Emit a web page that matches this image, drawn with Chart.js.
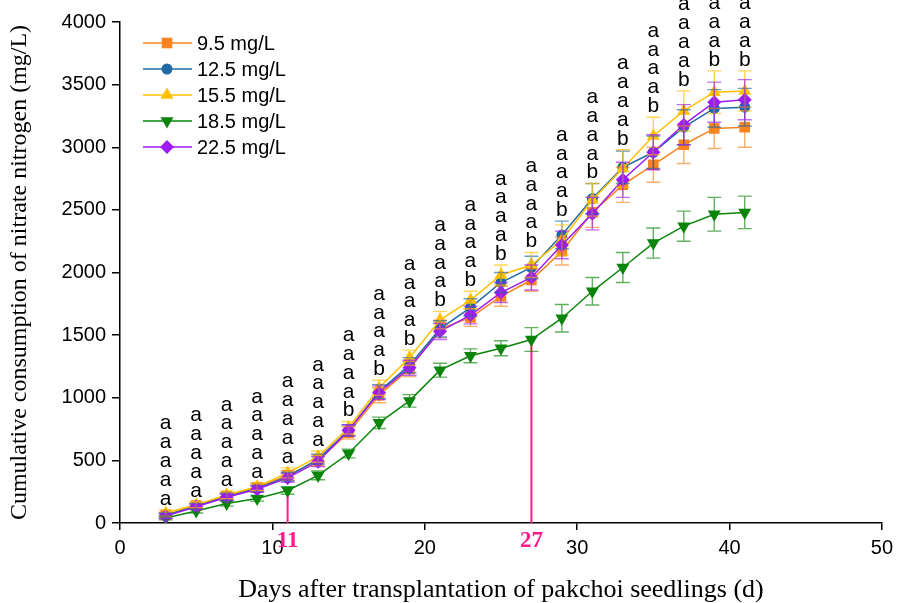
<!DOCTYPE html>
<html><head><meta charset="utf-8">
<script src="https://cdn.jsdelivr.net/npm/chart.js@4"></script>
<style>html,body{margin:0;padding:0;background:#fff}#wrap{width:899px;height:603px}</style>
</head><body><div id="wrap"><canvas id="c" width="899" height="603"></canvas></div>
<script>
// ---- data ----
const days = [3,5,7,9,11,13,15,17,19,21,23,25,27,29,31,33,35,37,39,41];
const seriesNames = ['9.5 mg/L','12.5 mg/L','15.5 mg/L','18.5 mg/L','22.5 mg/L'];
const s95  = [65,140,215,285,380,500,720,1020,1230,1550,1640,1810,1940,2170,2480,2700,2860,3020,3150,3160];
const s125 = [60,135,210,275,370,510,740,1050,1260,1550,1720,1920,2040,2300,2590,2840,2960,3160,3310,3320];
const s155 = [80,145,225,290,400,530,760,1080,1320,1620,1780,1980,2060,2260,2580,2830,3090,3290,3440,3450];
const s185 = [40,95,155,195,260,380,555,800,975,1220,1335,1395,1465,1635,1850,2040,2235,2370,2465,2480];
const s225 = [55,130,205,270,360,490,740,1040,1240,1530,1660,1840,1960,2220,2470,2740,2960,3180,3360,3380];
const e95  = [20,20,25,30,40,45,50,60,60,70,70,80,90,110,120,140,140,150,160,160];
const e125 = [20,20,25,25,35,40,45,55,60,65,70,80,90,110,120,130,130,140,150,150];
const e155 = [25,25,30,30,40,45,50,60,60,70,70,80,100,120,130,150,150,160,170,160];
const e185 = [15,15,20,20,30,35,35,45,50,55,55,60,95,110,110,120,120,120,135,130];
const e225 = [20,20,25,25,35,40,45,55,60,65,70,80,100,110,130,140,140,160,160,160];
const letters = ['aaaaa','aaaaa','aaaaa','aaaaa','aaaaa','aaaaa','aaaab','aaaab','aaaab','aaaab',
                 'aaaab','aaaab','aaaab','aaaab','aaaab','aaaab','aaaab','aaaab','aaaab','aaaab'];
const markDays = [11, 27];
const markSeries = 3;

const colors = ['#f7841f','#1f6aa5','#ffc000','#0a850a','#9d1cf5'];
const styles = [
  {pointStyle:'rect', radius:7.5, rotation:0},
  {pointStyle:'circle', radius:5.5, rotation:0},
  {pointStyle:'triangle', radius:7.5, rotation:0},
  {pointStyle:'triangle', radius:7.5, rotation:180},
  {pointStyle:'rectRot', radius:7, rotation:0}
];
const values = [s95,s125,s155,s185,s225];
const errors = [e95,e125,e155,e185,e225];

const datasets = values.map((v,k)=>({
  label: seriesNames[k],
  data: days.map((d,i)=>({x:d,y:v[i]})),
  borderColor: colors[k],
  backgroundColor: colors[k],
  borderWidth: 1.5,
  pointStyle: styles[k].pointStyle,
  pointRadius: styles[k].radius,
  pointRotation: styles[k].rotation,
  pointBorderWidth: 0,
  pointBackgroundColor: colors[k],
  tension: 0,
  order: 5-k
}));

function rgba(hex,a){const n=parseInt(hex.slice(1),16);return `rgba(${n>>16},${(n>>8)&255},${n&255},${a})`;}

const extras = {
  id:'extras',
  beforeDatasetsDraw(chart){
    const ctx=chart.ctx, xs=chart.scales.x, ys=chart.scales.y;
    ctx.save();
    ctx.strokeStyle='#ff1a8c'; ctx.lineWidth=2;
    markDays.forEach(d=>{
      const i=days.indexOf(d);
      const x=xs.getPixelForValue(d);
      ctx.beginPath();
      ctx.moveTo(x, ys.getPixelForValue(values[markSeries][i]));
      ctx.lineTo(x, chart.chartArea.bottom);
      ctx.stroke();
    });
    ctx.restore();
  },
  afterDatasetsDraw(chart){
    const ctx=chart.ctx, xs=chart.scales.x, ys=chart.scales.y;
    ctx.save();
    // error bars
    values.forEach((v,k)=>{
      ctx.strokeStyle=rgba(colors[k],0.65); ctx.lineWidth=1.4;
      days.forEach((d,i)=>{
        const x=xs.getPixelForValue(d);
        const yt=ys.getPixelForValue(v[i]+errors[k][i]);
        const yb=ys.getPixelForValue(v[i]-errors[k][i]);
        ctx.beginPath();
        ctx.moveTo(x,yt);ctx.lineTo(x,yb);
        ctx.moveTo(x-7,yt);ctx.lineTo(x+7,yt);
        ctx.moveTo(x-7,yb);ctx.lineTo(x+7,yb);
        ctx.stroke();
      });
    });
    // significance letters
    ctx.fillStyle='#000'; ctx.font='21px "Liberation Sans", Arial, sans-serif';
    ctx.textAlign='center'; ctx.textBaseline='middle';
    days.forEach((d,i)=>{
      let top=0;
      values.forEach((v,k)=>{top=Math.max(top,v[i]+errors[k][i]);});
      const x=xs.getPixelForValue(d);
      const y0=ys.getPixelForValue(top)-11;
      const s=letters[i];
      for(let j=0;j<s.length;j++){
        ctx.fillText(s[s.length-1-j], x, y0-j*18.8);
      }
    });
    // marked day labels
    ctx.fillStyle='#ff1a8c'; ctx.font='bold 23px "Liberation Serif", "Times New Roman", serif';
    markDays.forEach(d=>{ctx.fillText(String(d), xs.getPixelForValue(d), chart.chartArea.bottom+18);});
    // legend
    const lx0=143, lx1=192, lmx=167, ltx=197, ly0=43, ldy=26;
    ctx.textAlign='left'; ctx.font='20px "Liberation Sans", Arial, sans-serif';
    seriesNames.forEach((name,k)=>{
      const y=ly0+k*ldy;
      ctx.strokeStyle=colors[k]; ctx.lineWidth=1.5;
      ctx.beginPath();ctx.moveTo(lx0,y);ctx.lineTo(lx1,y);ctx.stroke();
      ctx.fillStyle=colors[k];
      Chart.helpers.drawPoint(ctx,{pointStyle:styles[k].pointStyle,radius:styles[k].radius,rotation:styles[k].rotation,borderWidth:0},lmx,y);
      ctx.fillStyle='#000';
      ctx.fillText(name, ltx, y+1);
    });
    ctx.restore();
  }
};

new Chart(document.getElementById('c'),{
  type:'line',
  data:{datasets},
  options:{
    responsive:false, animation:false, devicePixelRatio:1,
    layout:{padding:{left:0,right:15,top:22,bottom:0}},
    plugins:{legend:{display:false},tooltip:{enabled:false}},
    scales:{
      x:{type:'linear',min:0,max:50,
        afterFit(s){s.height=80;},
        ticks:{stepSize:10,color:'#000',font:{family:'"Liberation Sans", Arial',size:20},padding:6,
          callback:v=>String(v)},
        grid:{drawOnChartArea:false,drawTicks:true,tickLength:7,color:'#000',lineWidth:1.5},
        border:{color:'#000',width:1.5},
        title:{display:true,text:'Days after transplantation of pakchoi seedlings (d)',color:'#000',
          font:{family:'"Liberation Serif", "Times New Roman", serif',size:26},padding:{top:0,bottom:-3}}
      },
      y:{type:'linear',min:0,max:4000,
        afterFit(s){s.width=120;},
        ticks:{stepSize:500,color:'#000',font:{family:'"Liberation Sans", Arial',size:20},padding:6,
          callback:v=>String(v)},
        grid:{drawOnChartArea:false,drawTicks:true,tickLength:8,color:'#000',lineWidth:1.5},
        border:{color:'#000',width:1.5},
        title:{display:true,text:'Cumulative consumption of nitrate nitrogen (mg/L)',color:'#000',
          font:{family:'"Liberation Serif", "Times New Roman", serif',size:24},padding:{top:5,bottom:0}}
      }
    }
  },
  plugins:[extras]
});
</script></body></html>
